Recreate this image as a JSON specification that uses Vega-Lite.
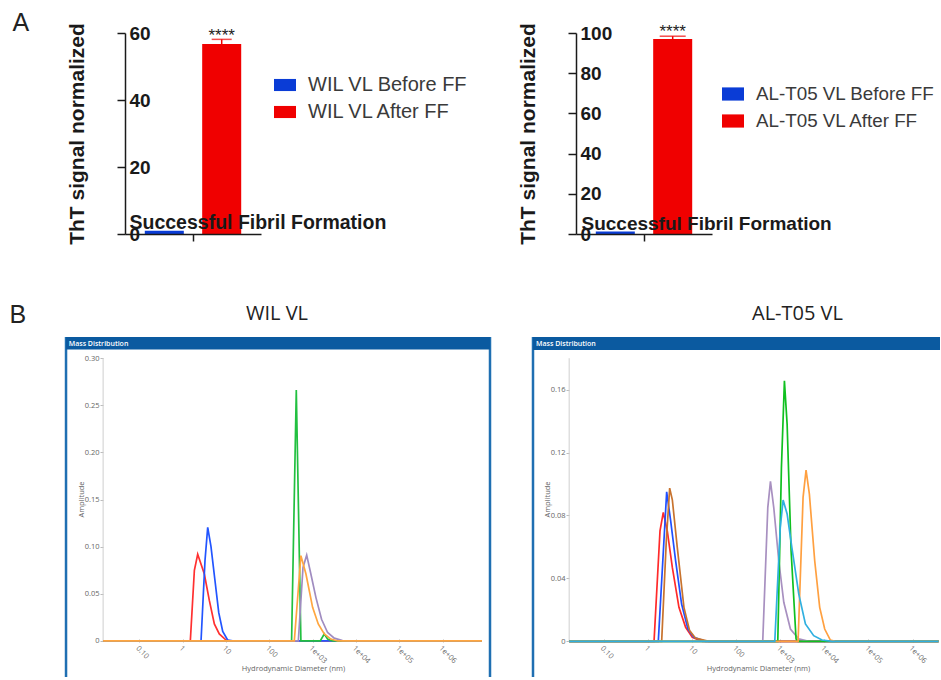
{
  "$schema": "https://vega.github.io/schema/vega-lite/v6.json",
  "padding": {"left": 9, "top": 10, "right": 0, "bottom": 0},
  "background": "white",
  "config": {"view": {"stroke": null}, "font": "Liberation Sans"},
  "columns": 1,
  "align": "none",
  "spacing": 57,
  "resolve": {"scale": {"color": "independent"}, "legend": {"color": "independent"}},
  "concat": [
    {
      "title": {"text": "A", "anchor": "start", "fontSize": 25, "fontWeight": "normal", "font": "Liberation Sans", "color": "#222", "dx": -53.5, "offset": -13},
      "bounds": "flush",
      "spacing": 315,
      "resolve": {"scale": {"color": "independent"}, "legend": {"color": "independent"}},
      "hconcat": [
        {
          "width": 136, "height": 201,
          "data": {"values": [
            {"group": "WIL VL Before FF", "value": 1.0, "upper": 1.0, "stars": ""},
            {"group": "WIL VL After FF", "value": 56.7, "upper": 58.1, "stars": "****"}
          ]},
          "encoding": {
            "x": {"field": "group", "type": "nominal", "sort": null,
              "scale": {"paddingInner": 0.32, "paddingOuter": 0.345, "align": 0.5},
              "axis": {"title": "Successful Fibril Formation", "titleX": 4, "titleY": -6, "titleAlign": "left", "titleAnchor": "start", "titleBaseline": "alphabetic", "titleFontSize": 19.5, "titleFontWeight": "bold", "titleColor": "#1a1a1a", "labels": false, "values": ["WIL VL Before FF"], "bandPosition": 1.244, "tickSize": 7, "tickWidth": 1.5, "tickColor": "#1a1a1a", "domainColor": "#1a1a1a", "domainWidth": 1.5, "zindex": 1}
            }
          },
          "layer": [
            {
              "mark": {"type": "bar"},
              "encoding": {
                "y": {"field": "value", "type": "quantitative", "scale": {"domain": [0, 60], "nice": false},
                  "axis": {"title": "ThT signal normalized", "titleFontSize": 21, "titleFontWeight": "bold", "titleColor": "#1a1a1a", "titleX": -38, "titleY": 100.5, "titleAngle": -90, "titleAlign": "center", "titleBaseline": "bottom", "values": [0, 20, 40, 60], "grid": false, "tickSize": 8, "tickWidth": 1.5, "tickColor": "#1a1a1a", "domainColor": "#1a1a1a", "domainWidth": 1.5, "labelAlign": "left", "labelBaseline": "middle", "labelPadding": -12, "labelFontSize": 19, "labelFontWeight": "bold", "labelColor": "#1a1a1a", "labelFlush": false, "labelOverlap": false, "zindex": 1}},
                "color": {"field": "group", "type": "nominal", "sort": null,
                  "scale": {"domain": ["WIL VL Before FF", "WIL VL After FF"], "range": ["#0a3cd6", "#f00000"]},
                  "legend": {"orient": "none", "legendX": 149, "legendY": 41, "title": null, "symbolType": "M-1,-0.55H1V0.55H-1Z", "symbolSize": 484, "symbolStrokeWidth": 0, "symbolOpacity": 1, "labelFontSize": 20, "labelColor": "#3a3a3a", "labelOffset": 12, "rowPadding": 6, "padding": 0, "labelLimit": 300}}
              }
            },
            {
              "transform": [{"filter": "datum.upper > datum.value"}],
              "mark": {"type": "rule", "color": "#f00000", "strokeWidth": 1.5},
              "encoding": {"y": {"field": "value", "type": "quantitative"}, "y2": {"field": "upper"}}
            },
            {
              "transform": [{"filter": "datum.upper > datum.value"}],
              "mark": {"type": "tick", "color": "#f00000", "thickness": 1.5, "size": 20},
              "encoding": {"y": {"field": "upper", "type": "quantitative"}}
            },
            {
              "mark": {"type": "text", "baseline": "alphabetic", "dy": 2, "fontSize": 17, "color": "#222"},
              "encoding": {"y": {"field": "upper", "type": "quantitative"}, "text": {"field": "stars"}}
            }
          ]
        },
        {
          "width": 136, "height": 201,
          "data": {"values": [
            {"group": "AL-T05 VL Before FF", "value": 1.2, "upper": 1.2, "stars": ""},
            {"group": "AL-T05 VL After FF", "value": 97.0, "upper": 98.4, "stars": "****"}
          ]},
          "encoding": {
            "x": {"field": "group", "type": "nominal", "sort": null,
              "scale": {"paddingInner": 0.32, "paddingOuter": 0.345, "align": 0.5},
              "axis": {"title": "Successful Fibril Formation", "titleX": 5, "titleY": -5, "titleAlign": "left", "titleAnchor": "start", "titleBaseline": "alphabetic", "titleFontSize": 19, "titleFontWeight": "bold", "titleColor": "#1a1a1a", "labels": false, "values": ["AL-T05 VL Before FF"], "bandPosition": 1.244, "tickSize": 7, "tickWidth": 1.5, "tickColor": "#1a1a1a", "domainColor": "#1a1a1a", "domainWidth": 1.5, "zindex": 1}
            }
          },
          "layer": [
            {
              "mark": {"type": "bar"},
              "encoding": {
                "y": {"field": "value", "type": "quantitative", "scale": {"domain": [0, 100], "nice": false},
                  "axis": {"title": "ThT signal normalized", "titleFontSize": 21, "titleFontWeight": "bold", "titleColor": "#1a1a1a", "titleX": -38, "titleY": 100.5, "titleAngle": -90, "titleAlign": "center", "titleBaseline": "bottom", "values": [0, 20, 40, 60, 80, 100], "grid": false, "tickSize": 8, "tickWidth": 1.5, "tickColor": "#1a1a1a", "domainColor": "#1a1a1a", "domainWidth": 1.5, "labelAlign": "left", "labelBaseline": "middle", "labelPadding": -12, "labelFontSize": 19, "labelFontWeight": "bold", "labelColor": "#1a1a1a", "labelFlush": false, "labelOverlap": false, "zindex": 1}},
                "color": {"field": "group", "type": "nominal", "sort": null,
                  "scale": {"domain": ["AL-T05 VL Before FF", "AL-T05 VL After FF"], "range": ["#0a3cd6", "#f00000"]},
                  "legend": {"orient": "none", "legendX": 146, "legendY": 50, "title": null, "symbolType": "M-1,-0.6H1V0.6H-1Z", "symbolSize": 484, "symbolStrokeWidth": 0, "symbolOpacity": 1, "labelFontSize": 18.8, "labelColor": "#3a3a3a", "labelOffset": 12, "rowPadding": 6, "padding": 0, "labelLimit": 300}}
              }
            },
            {
              "transform": [{"filter": "datum.upper > datum.value"}],
              "mark": {"type": "rule", "color": "#f00000", "strokeWidth": 1.5},
              "encoding": {"y": {"field": "value", "type": "quantitative"}, "y2": {"field": "upper"}}
            },
            {
              "transform": [{"filter": "datum.upper > datum.value"}],
              "mark": {"type": "tick", "color": "#f00000", "thickness": 1.5, "size": 26},
              "encoding": {"y": {"field": "upper", "type": "quantitative"}}
            },
            {
              "mark": {"type": "text", "baseline": "alphabetic", "dy": 1, "fontSize": 17, "color": "#222"},
              "encoding": {"y": {"field": "upper", "type": "quantitative"}, "text": {"field": "stars"}}
            }
          ]
        }
      ]
    },
    {
      "title": {"text": "B", "anchor": "start", "fontSize": 25, "fontWeight": "normal", "font": "Liberation Sans", "color": "#222", "dx": -55.25, "offset": -24},
      "bounds": "flush",
      "spacing": 43,
      "resolve": {"scale": {"color": "independent"}, "legend": {"color": "independent"}},
      "hconcat": [
        {
          "width": 365, "height": 340,
          "title": {"text": "WIL VL", "font": "Open Sans", "fontSize": 20, "fontWeight": "normal", "color": "#222", "offset": 12, "anchor": "middle", "frame": "group", "dx": -30.5},
          "layer": [
            {
              "data": {"values": [{"label": "Mass Distribution"}]},
              "mark": {"type": "rule", "color": "#cfcfcf", "strokeWidth": 1},
              "encoding": {"x": {"datum": 0.01452, "type": "quantitative", "title": "Hydrodynamic Diameter (nm)"}, "y": {"datum": 0, "type": "quantitative", "title": "Amplitude"}, "y2": {"datum": 0.30}}
            },
            {
              "data": {"values": [{"label": "Mass Distribution"}]},
              "mark": {"type": "rule", "color": "#cfd6de", "strokeWidth": 1},
              "encoding": {"x": {"datum": 0.01452, "type": "quantitative", "title": "Hydrodynamic Diameter (nm)"}, "x2": {"datum": 8.17e6}, "y": {"datum": 0, "type": "quantitative", "title": "Amplitude"}}
            },
            {
              "data": {"values": [
                {"s": "Run 1", "d": 0.01452, "a": 0}, {"s": "Run 1", "d": 1.5, "a": 0}, {"s": "Run 1", "d": 1.86, "a": 0.075}, {"s": "Run 1", "d": 2.22, "a": 0.092}, {"s": "Run 1", "d": 3.16, "a": 0.071}, {"s": "Run 1", "d": 4.12, "a": 0.043}, {"s": "Run 1", "d": 5.38, "a": 0.018}, {"s": "Run 1", "d": 7.0, "a": 0.0074}, {"s": "Run 1", "d": 10, "a": 0.001}, {"s": "Run 1", "d": 13, "a": 0}, {"s": "Run 1", "d": 8.17e6, "a": 0},
                {"s": "Run 2", "d": 0.01452, "a": 0}, {"s": "Run 2", "d": 2.65, "a": 0}, {"s": "Run 2", "d": 3.27, "a": 0.085}, {"s": "Run 2", "d": 3.78, "a": 0.1205}, {"s": "Run 2", "d": 4.5, "a": 0.1}, {"s": "Run 2", "d": 5.5, "a": 0.066}, {"s": "Run 2", "d": 6.8, "a": 0.03}, {"s": "Run 2", "d": 8.4, "a": 0.01}, {"s": "Run 2", "d": 10.9, "a": 0.001}, {"s": "Run 2", "d": 15.6, "a": 0}, {"s": "Run 2", "d": 8.17e6, "a": 0},
                {"s": "Run 3", "d": 0.01452, "a": 0}, {"s": "Run 3", "d": 327, "a": 0}, {"s": "Run 3", "d": 420, "a": 0.266}, {"s": "Run 3", "d": 537, "a": 0}, {"s": "Run 3", "d": 1500, "a": 0}, {"s": "Run 3", "d": 1860, "a": 0.0074}, {"s": "Run 3", "d": 2220, "a": 0.002}, {"s": "Run 3", "d": 2880, "a": 0}, {"s": "Run 3", "d": 8.17e6, "a": 0},
                {"s": "Run 4", "d": 0.01452, "a": 0}, {"s": "Run 4", "d": 468, "a": 0}, {"s": "Run 4", "d": 600, "a": 0.078}, {"s": "Run 4", "d": 730, "a": 0.091}, {"s": "Run 4", "d": 912, "a": 0.071}, {"s": "Run 4", "d": 1195, "a": 0.046}, {"s": "Run 4", "d": 1610, "a": 0.023}, {"s": "Run 4", "d": 2220, "a": 0.009}, {"s": "Run 4", "d": 3160, "a": 0.003}, {"s": "Run 4", "d": 4900, "a": 0.0004}, {"s": "Run 4", "d": 7670, "a": 0}, {"s": "Run 4", "d": 8.17e6, "a": 0},
                {"s": "Run 5", "d": 0.01452, "a": 0}, {"s": "Run 5", "d": 378, "a": 0}, {"s": "Run 5", "d": 537, "a": 0.0905}, {"s": "Run 5", "d": 702, "a": 0.071}, {"s": "Run 5", "d": 1000, "a": 0.0357}, {"s": "Run 5", "d": 1350, "a": 0.018}, {"s": "Run 5", "d": 1860, "a": 0.0074}, {"s": "Run 5", "d": 2640, "a": 0.002}, {"s": "Run 5", "d": 3790, "a": 0}, {"s": "Run 5", "d": 8.17e6, "a": 0}
              ]},
              "mark": {"type": "line", "strokeWidth": 1.7},
              "encoding": {
                "x": {"field": "d", "type": "quantitative", "scale": {"type": "log", "domain": [0.04649, 1.25e7], "nice": false},
                  "axis": {"title": "Hydrodynamic Diameter (nm)", "offset": -38, "domain": false, "grid": false, "values": [0.1, 1, 10, 100, 1000, 10000, 100000, 1000000], "labelExpr": "datum.value < 1 ? '0.10' : datum.value < 1000 ? format(datum.value, 'd') : '1e+0' + format(log(datum.value)/LN10, '.0f')", "labelAngle": 45, "labelAlign": "left", "labelBaseline": "top", "tickSize": 3, "tickColor": "#bbbbbb", "labelFontSize": 7.5, "labelColor": "#666666", "labelFont": "Open Sans", "labelPadding": 2, "labelFlush": false, "labelOverlap": false, "titleFont": "Open Sans", "titleFontSize": 7.5, "titleFontWeight": "normal", "titleColor": "#666666", "titleX": 168, "titleY": 25, "titleBaseline": "top", "titleAlign": "center"}},
                "y": {"field": "a", "type": "quantitative", "scale": {"domain": [-0.0382, 0.3223], "nice": false, "zero": false},
                  "axis": {"title": "Amplitude", "offset": 22, "domain": false, "grid": false, "values": [0, 0.05, 0.1, 0.15, 0.2, 0.25, 0.3], "labelExpr": "datum.value == 0 ? '0' : format(datum.value, '.2f')", "tickSize": 3, "tickColor": "#bbbbbb", "labelFontSize": 7.5, "labelColor": "#666666", "labelFont": "Open Sans", "labelPadding": 1, "labelFlush": false, "titleFont": "Open Sans", "titleFontSize": 7.5, "titleFontWeight": "normal", "titleColor": "#666666", "titleX": -22, "titleY": 162, "titleAngle": -90, "titleAlign": "center", "titleBaseline": "middle"}},
                "color": {"field": "s", "type": "nominal", "scale": {"domain": ["Run 1", "Run 2", "Run 3", "Run 4", "Run 5"], "range": ["#ff3030", "#2255ff", "#22c040", "#a08cc0", "#ffa640"]}, "legend": null}
              }
            },
            {
              "data": {"values": [{"label": "Mass Distribution"}]},
              "mark": {"type": "rule", "color": "#1f6fb2", "strokeWidth": 2.5},
              "encoding": {"x": {"datum": 0.00202, "type": "quantitative", "title": "Hydrodynamic Diameter (nm)"}, "y": {"datum": -0.0382, "type": "quantitative", "title": "Amplitude"}, "y2": {"datum": 0.3223}}
            },
            {
              "data": {"values": [{"label": "Mass Distribution"}]},
              "mark": {"type": "rule", "color": "#1f6fb2", "strokeWidth": 2.5},
              "encoding": {"x": {"datum": 1.25e7, "type": "quantitative", "title": "Hydrodynamic Diameter (nm)"}, "y": {"datum": -0.0382, "type": "quantitative", "title": "Amplitude"}, "y2": {"datum": 0.3223}}
            },
            {
              "data": {"values": [{"label": "Mass Distribution"}]},
              "mark": {"type": "rect", "color": "#0b5aa0"},
              "encoding": {"x": {"datum": 0.00202, "type": "quantitative", "title": "Hydrodynamic Diameter (nm)"}, "x2": {"datum": 1.25e7}, "y": {"datum": 0.3223, "type": "quantitative", "title": "Amplitude"}, "y2": {"datum": 0.309}}
            },
            {
              "data": {"values": [{"label": "Mass Distribution"}]},
              "mark": {"type": "text", "color": "white", "fontSize": 7, "font": "Open Sans", "fontWeight": 600, "align": "left", "baseline": "middle"},
              "encoding": {"x": {"datum": 0.00233, "type": "quantitative", "title": "Hydrodynamic Diameter (nm)"}, "y": {"datum": 0.3152, "type": "quantitative", "title": "Amplitude"}, "text": {"field": "label"}}
            }
          ]
        },
        {
          "width": 407, "height": 340,
          "title": {"text": "AL-T05 VL", "font": "Open Sans", "fontSize": 20, "fontWeight": "normal", "color": "#222", "offset": 12, "anchor": "middle", "frame": "group", "dx": 61},
          "layer": [
            {
              "data": {"values": [{"label": "Mass Distribution"}]},
              "mark": {"type": "rule", "color": "#cfcfcf", "strokeWidth": 1},
              "encoding": {"x": {"datum": 0.01626, "type": "quantitative", "title": "Hydrodynamic Diameter (nm)"}, "y": {"datum": 0, "type": "quantitative", "title": "Amplitude"}, "y2": {"datum": 0.18}}
            },
            {
              "data": {"values": [{"label": "Mass Distribution"}]},
              "mark": {"type": "rule", "color": "#cfd6de", "strokeWidth": 1},
              "encoding": {"x": {"datum": 0.01626, "type": "quantitative", "title": "Hydrodynamic Diameter (nm)"}, "x2": {"datum": 3.9e6}, "y": {"datum": 0, "type": "quantitative", "title": "Amplitude"}}
            },
            {
              "data": {"values": [
                {"s": "Run 1", "d": 0.01626, "a": 0}, {"s": "Run 1", "d": 1.37, "a": 0}, {"s": "Run 1", "d": 1.87, "a": 0.0703}, {"s": "Run 1", "d": 2.22, "a": 0.082}, {"s": "Run 1", "d": 2.74, "a": 0.07}, {"s": "Run 1", "d": 3.56, "a": 0.047}, {"s": "Run 1", "d": 5.03, "a": 0.0216}, {"s": "Run 1", "d": 7.13, "a": 0.0089}, {"s": "Run 1", "d": 10.1, "a": 0.0025}, {"s": "Run 1", "d": 17, "a": 0}, {"s": "Run 1", "d": 3.9e6, "a": 0},
                {"s": "Run 2", "d": 0.01626, "a": 0}, {"s": "Run 2", "d": 1.71, "a": 0}, {"s": "Run 2", "d": 2.65, "a": 0.095}, {"s": "Run 2", "d": 3.26, "a": 0.0767}, {"s": "Run 2", "d": 4.23, "a": 0.0512}, {"s": "Run 2", "d": 5.78, "a": 0.0237}, {"s": "Run 2", "d": 8.05, "a": 0.0078}, {"s": "Run 2", "d": 11, "a": 0.0025}, {"s": "Run 2", "d": 20, "a": 0}, {"s": "Run 2", "d": 3.9e6, "a": 0},
                {"s": "Run 3", "d": 0.01626, "a": 0}, {"s": "Run 3", "d": 2.04, "a": 0}, {"s": "Run 3", "d": 2.6, "a": 0.064}, {"s": "Run 3", "d": 3.1, "a": 0.0974}, {"s": "Run 3", "d": 3.56, "a": 0.09}, {"s": "Run 3", "d": 4.61, "a": 0.0597}, {"s": "Run 3", "d": 6.53, "a": 0.0216}, {"s": "Run 3", "d": 8.78, "a": 0.0068}, {"s": "Run 3", "d": 12, "a": 0.002}, {"s": "Run 3", "d": 24, "a": 0}, {"s": "Run 3", "d": 3.9e6, "a": 0},
                {"s": "Run 4", "d": 0.01626, "a": 0}, {"s": "Run 4", "d": 400, "a": 0}, {"s": "Run 4", "d": 521, "a": 0.085}, {"s": "Run 4", "d": 599, "a": 0.1017}, {"s": "Run 4", "d": 712, "a": 0.085}, {"s": "Run 4", "d": 925, "a": 0.0512}, {"s": "Run 4", "d": 1202, "a": 0.0248}, {"s": "Run 4", "d": 1700, "a": 0.0078}, {"s": "Run 4", "d": 2630, "a": 0.0015}, {"s": "Run 4", "d": 4420, "a": 0}, {"s": "Run 4", "d": 3.9e6, "a": 0},
                {"s": "Run 5", "d": 0.01626, "a": 0}, {"s": "Run 5", "d": 878, "a": 0}, {"s": "Run 5", "d": 1062, "a": 0.1105}, {"s": "Run 5", "d": 1242, "a": 0.1656}, {"s": "Run 5", "d": 1430, "a": 0.138}, {"s": "Run 5", "d": 1760, "a": 0.0576}, {"s": "Run 5", "d": 2280, "a": 0.0015}, {"s": "Run 5", "d": 2535, "a": 0}, {"s": "Run 5", "d": 3.9e6, "a": 0},
                {"s": "Run 6", "d": 0.01626, "a": 0}, {"s": "Run 6", "d": 2535, "a": 0}, {"s": "Run 6", "d": 3290, "a": 0.0915}, {"s": "Run 6", "d": 3845, "a": 0.1088}, {"s": "Run 6", "d": 4575, "a": 0.0936}, {"s": "Run 6", "d": 6040, "a": 0.0512}, {"s": "Run 6", "d": 7840, "a": 0.0216}, {"s": "Run 6", "d": 10180, "a": 0.0078}, {"s": "Run 6", "d": 13680, "a": 0.0008}, {"s": "Run 6", "d": 17800, "a": 0}, {"s": "Run 6", "d": 3.9e6, "a": 0},
                {"s": "Run 7", "d": 0.01626, "a": 0}, {"s": "Run 7", "d": 751, "a": 0}, {"s": "Run 7", "d": 1000, "a": 0.0724}, {"s": "Run 7", "d": 1160, "a": 0.0898}, {"s": "Run 7", "d": 1430, "a": 0.081}, {"s": "Run 7", "d": 1830, "a": 0.0597}, {"s": "Run 7", "d": 2630, "a": 0.03}, {"s": "Run 7", "d": 3720, "a": 0.011}, {"s": "Run 7", "d": 5730, "a": 0.0036}, {"s": "Run 7", "d": 8850, "a": 0.0008}, {"s": "Run 7", "d": 14900, "a": 0}, {"s": "Run 7", "d": 3.9e6, "a": 0}
              ]},
              "mark": {"type": "line", "strokeWidth": 1.7},
              "encoding": {
                "x": {"field": "d", "type": "quantitative", "scale": {"type": "log", "domain": [0.00246, 4.2e6], "nice": false},
                  "axis": {"title": "Hydrodynamic Diameter (nm)", "offset": -38, "domain": false, "grid": false, "values": [0.1, 1, 10, 100, 1000, 10000, 100000, 1000000], "labelExpr": "datum.value < 1 ? '0.10' : datum.value < 1000 ? format(datum.value, 'd') : '1e+0' + format(log(datum.value)/LN10, '.0f')", "labelAngle": 45, "labelAlign": "left", "labelBaseline": "top", "tickSize": 3, "tickColor": "#bbbbbb", "labelFontSize": 7.5, "labelColor": "#666666", "labelFont": "Open Sans", "labelPadding": 2, "labelFlush": false, "labelOverlap": false, "titleFont": "Open Sans", "titleFontSize": 7.5, "titleFontWeight": "normal", "titleColor": "#666666", "titleX": 225, "titleY": 25, "titleBaseline": "top", "titleAlign": "center"}},
                "y": {"field": "a", "type": "quantitative", "scale": {"domain": [-0.0227, 0.1935], "nice": false, "zero": false},
                  "axis": {"title": "Amplitude", "offset": -36, "domain": false, "grid": false, "values": [0, 0.02, 0.04, 0.06, 0.08, 0.1, 0.12, 0.14, 0.16, 0.18], "labelExpr": "datum.value == 0 ? '0' : format(datum.value, '.2f')", "tickSize": 3, "tickColor": "#bbbbbb", "labelFontSize": 7.5, "labelColor": "#666666", "labelFont": "Open Sans", "labelPadding": 1, "labelFlush": false, "titleFont": "Open Sans", "titleFontSize": 7.5, "titleFontWeight": "normal", "titleColor": "#666666", "titleX": -22, "titleY": 162, "titleAngle": -90, "titleAlign": "center", "titleBaseline": "middle"}},
                "color": {"field": "s", "type": "nominal", "scale": {"domain": ["Run 1", "Run 2", "Run 3", "Run 4", "Run 5", "Run 6", "Run 7"], "range": ["#ff2a2a", "#2050ff", "#c8732e", "#a890c0", "#10c020", "#ffa040", "#30b0e0"]}, "legend": null}
              }
            },
            {
              "data": {"values": [{"label": "Mass Distribution"}]},
              "mark": {"type": "rule", "color": "#1f6fb2", "strokeWidth": 2.5},
              "encoding": {"x": {"datum": 0.00246, "type": "quantitative", "title": "Hydrodynamic Diameter (nm)"}, "y": {"datum": -0.0227, "type": "quantitative", "title": "Amplitude"}, "y2": {"datum": 0.1935}}
            },
            {
              "data": {"values": [{"label": "Mass Distribution"}]},
              "mark": {"type": "rect", "color": "#0b5aa0"},
              "encoding": {"x": {"datum": 0.00246, "type": "quantitative", "title": "Hydrodynamic Diameter (nm)"}, "x2": {"datum": 4.2e6}, "y": {"datum": 0.1935, "type": "quantitative", "title": "Amplitude"}, "y2": {"datum": 0.1853}}
            },
            {
              "data": {"values": [{"label": "Mass Distribution"}]},
              "mark": {"type": "text", "color": "white", "fontSize": 7, "font": "Open Sans", "fontWeight": 600, "align": "left", "baseline": "middle"},
              "encoding": {"x": {"datum": 0.00288, "type": "quantitative", "title": "Hydrodynamic Diameter (nm)"}, "y": {"datum": 0.1893, "type": "quantitative", "title": "Amplitude"}, "text": {"field": "label"}}
            }
          ]
        }
      ]
    }
  ]
}
